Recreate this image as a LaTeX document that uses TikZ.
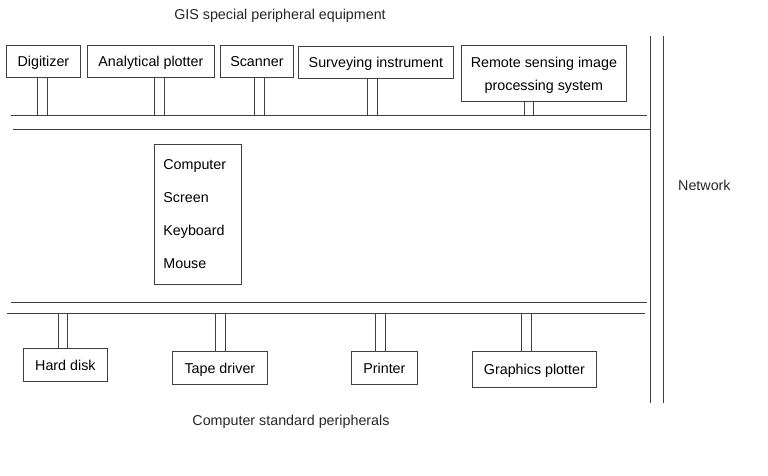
\documentclass[tikz,border=0pt]{standalone}
\usepackage{fontspec}
\setmainfont{Liberation Sans}
\begin{document}
\begin{tikzpicture}[x=1pt,y=-1pt,
  ln/.style={line width=0.8pt,draw=black!75},
  box/.style={ln,rectangle,inner sep=0pt,anchor=north west,align=center,text depth=0pt,font=\fontsize{14.3}{23}\selectfont},
  lbl/.style={inner sep=0pt,font=\fontsize{14.3}{16}\selectfont,text=black!85}]
\useasboundingbox (0,0) rectangle (768,476);
% titles
\node[lbl] (t1) at (280,16) {GIS special peripheral equipment};
\node[lbl] (t2) at (291,422) {Computer standard peripherals};
\node[lbl,anchor=west] (net) at (678,185) {Network};
% top boxes
\node[box,minimum width=74,minimum height=32] (dig) at (6,45) {Digitizer};
\node[box,minimum width=127,minimum height=32] (ana) at (87,45) {Analytical plotter};
\node[box,minimum width=73,minimum height=32] (sca) at (220,45) {Scanner};
\node[box,minimum width=155,minimum height=32] (sur) at (298,46) {Surveying instrument};
\node[box,minimum width=165,minimum height=56] (rem) at (461,45) {Remote sensing image\\processing system};
% computer
\node[box,text depth={},minimum width=87,minimum height=140,text width=69,align=left,font=\fontsize{14.3}{33}\selectfont] (cmp) at (154,144) {Computer\\Screen\\Keyboard\\Mouse};
% bottom boxes
\node[box,minimum width=84,minimum height=33] (hd) at (23,348) {Hard disk};
\node[box,minimum width=95,minimum height=33] (tap) at (172,351) {Tape driver};
\node[box,minimum width=66,minimum height=33] (pri) at (351,351) {Printer};
\node[box,minimum width=124,minimum height=36] (gra) at (472,351) {Graphics plotter};
% buses
\coordinate (busA) at (11,115);
\coordinate (busAe) at (647,115);
\coordinate (busB) at (13,129);
\coordinate (busBe) at (650,129);
\coordinate (busC) at (11,302);
\coordinate (busCe) at (647,302);
\coordinate (busD) at (7,313);
\coordinate (busDe) at (645,313);
\coordinate (netAt) at (650,36);
\coordinate (netAb) at (650,403);
\coordinate (netBt) at (663,36);
\coordinate (netBb) at (663,403);
\draw[ln] (busA) -- (busAe);
\draw[ln] (busB) -- (busBe);
\draw[ln] (busC) -- (busCe);
\draw[ln] (busD) -- (busDe);
\draw[ln] (netAt) -- (netAb);
\draw[ln] (netBt) -- (netBb);
% top connectors
\foreach \n/\xa/\xb in {dig/37/47, ana/154/164, sca/254/264, sur/367/377, rem/524/533}{
  \draw[ln] (\n.south -| \xa,0) -- (busA -| \xa,0);
  \draw[ln] (\n.south -| \xb,0) -- (busA -| \xb,0);
}
% bottom connectors
\foreach \n/\xa/\xb in {hd/58/67, tap/215/225, pri/375/385, gra/521/531}{
  \draw[ln] (busD -| \xa,0) -- (\n.north -| \xa,0);
  \draw[ln] (busD -| \xb,0) -- (\n.north -| \xb,0);
}
\end{tikzpicture}
\end{document}
